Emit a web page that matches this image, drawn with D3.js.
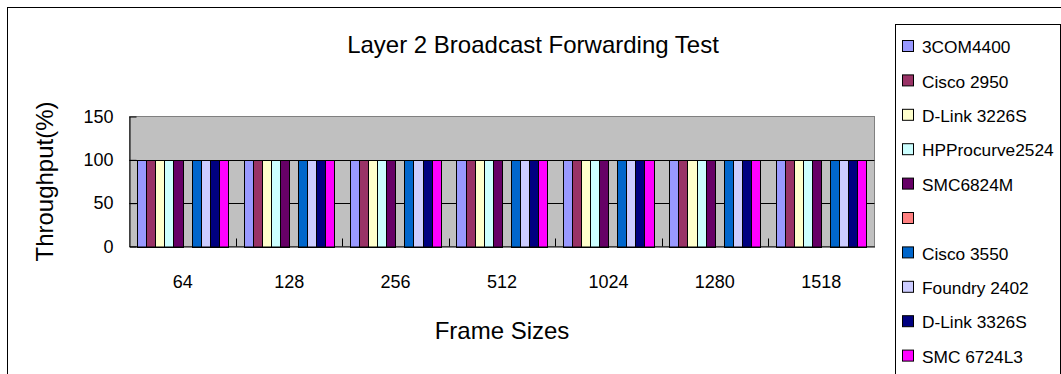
<!DOCTYPE html>
<html>
<head>
<meta charset="utf-8">
<script src="https://cdn.jsdelivr.net/npm/d3@7"></script>
<style>
  html, body { margin: 0; padding: 0; background: #fff; }
  svg { display: block; font-family: "Liberation Sans", Arial, sans-serif; }
</style>
</head>
<body>
<svg id="chart" width="1061" height="374"></svg>
<script>
// ---------- data ----------
const categories = ["64", "128", "256", "512", "1024", "1280", "1518"];
const seriesNames = ["3COM4400", "Cisco 2950", "D-Link 3226S", "HPProcurve2524", "SMC6824M", "",
                     "Cisco 3550", "Foundry 2402", "D-Link 3326S", "SMC 6724L3"];
const values3COM4400      = [100, 100, 100, 100, 100, 100, 100];
const valuesCisco2950     = [100, 100, 100, 100, 100, 100, 100];
const valuesDLink3226S    = [100, 100, 100, 100, 100, 100, 100];
const valuesHPProcurve2524= [100, 100, 100, 100, 100, 100, 100];
const valuesSMC6824M      = [100, 100, 100, 100, 100, 100, 100];
const valuesBlank         = [null, null, null, null, null, null, null];
const valuesCisco3550     = [100, 100, 100, 100, 100, 100, 100];
const valuesFoundry2402   = [100, 100, 100, 100, 100, 100, 100];
const valuesDLink3326S    = [100, 100, 100, 100, 100, 100, 100];
const valuesSMC6724L3     = [100, 100, 100, 100, 100, 100, 100];
const yTicks = [0, 50, 100, 150];
const titleText = "Layer 2 Broadcast Forwarding Test";
const xTitle = "Frame Sizes";
const yTitle = "Throughput(%)";

// ---------- styles ----------
const seriesColors = ["#9999FF", "#993366", "#FFFFCC", "#CCFFFF", "#660066", "#FF8080",
                      "#0066CC", "#CCCCFF", "#000080", "#FF00FF"];

const seriesValues = [values3COM4400, valuesCisco2950, valuesDLink3226S, valuesHPProcurve2524,
  valuesSMC6824M, valuesBlank, valuesCisco3550, valuesFoundry2402, valuesDLink3326S, valuesSMC6724L3];

const svg = d3.select("#chart");

// outer chart border
svg.append("rect").attr("x", 7.5).attr("y", 7.5).attr("width", 1100).attr("height", 400)
  .attr("fill", "#fff").attr("stroke", "#000").attr("stroke-width", 1);

const plot = { left: 129.5, right: 874.5, top: 116.5, bottom: 246.5 };

const x0 = d3.scaleBand().domain(categories).range([plot.left, plot.right]).padding(0);
const bw = x0.bandwidth();
const x1 = d3.scaleBand().domain(d3.range(seriesNames.length)).range([bw * 0.072, bw * 0.924]).padding(0);
const y = d3.scaleLinear().domain([0, 150]).range([plot.bottom, plot.top]);

// plot area
svg.append("rect").attr("x", plot.left).attr("y", plot.top)
  .attr("width", plot.right - plot.left).attr("height", plot.bottom - plot.top)
  .attr("fill", "#C0C0C0").attr("stroke", "#808080").attr("stroke-width", 1);

// gridlines
svg.append("g").selectAll("line").data(yTicks.filter(d => d > 0 && d < 150)).join("line")
  .attr("x1", plot.left).attr("x2", plot.right)
  .attr("y1", d => Math.round(y(d)) + 0.5).attr("y2", d => Math.round(y(d)) + 0.5)
  .attr("stroke", "#000").attr("stroke-width", 1);

// bars
const rows = [];
seriesValues.forEach((vals, si) => vals.forEach((v, ci) => {
  if (v != null) rows.push({ si, cat: categories[ci], v });
}));
svg.append("g").selectAll("rect").data(rows).join("rect")
  .attr("x", d => Math.round(x0(d.cat) + x1(d.si)) + 0.5)
  .attr("y", d => Math.round(y(d.v)) + 0.5)
  .attr("width", d => Math.round(x0(d.cat) + x1(d.si) + x1.bandwidth()) - Math.round(x0(d.cat) + x1(d.si)))
  .attr("height", d => Math.round(y(0)) - Math.round(y(d.v)))
  .attr("fill", d => seriesColors[d.si]).attr("stroke", "#000").attr("stroke-width", 1);

// axes
const yAxis = d3.axisLeft(y).tickValues(yTicks).tickSizeInner(-7).tickSizeOuter(0).tickPadding(16);
const gy = svg.append("g").attr("transform", `translate(${plot.left},0)`).call(yAxis);
gy.select(".domain").attr("stroke", "#000");
gy.selectAll(".tick line").attr("stroke", "#000");
gy.selectAll("text").attr("font-size", 18).attr("fill", "#000").attr("font-family", "Liberation Sans, Arial, sans-serif");

const xAxis = d3.axisBottom(x0).tickSize(0).tickPadding(29);
const gx = svg.append("g").attr("transform", `translate(0,${plot.bottom})`).call(xAxis);
gx.select(".domain").attr("stroke", "#000");
gx.selectAll("text").attr("font-size", 18).attr("fill", "#000").attr("font-family", "Liberation Sans, Arial, sans-serif");

// category boundary ticks (inside)
svg.append("g").selectAll("line").data(categories.slice(1)).join("line")
  .attr("x1", d => Math.round(x0(d)) + 0.5).attr("x2", d => Math.round(x0(d)) + 0.5)
  .attr("y1", plot.bottom).attr("y2", plot.bottom - 8)
  .attr("stroke", "#000").attr("stroke-width", 1);

// titles
svg.append("text").attr("x", 533).attr("y", 53).attr("text-anchor", "middle")
  .attr("font-size", 24).attr("fill", "#000").text(titleText);
svg.append("text").attr("x", (plot.left + plot.right) / 2).attr("y", 339).attr("text-anchor", "middle")
  .attr("font-size", 24).attr("fill", "#000").text(xTitle);
svg.append("text").attr("transform", "translate(53,181.5) rotate(-90)").attr("text-anchor", "middle")
  .attr("font-size", 24).attr("fill", "#000").text(yTitle);

// legend
const lg = svg.append("g");
lg.append("rect").attr("x", 895.5).attr("y", 24.5).attr("width", 165).attr("height", 400)
  .attr("fill", "#fff").attr("stroke", "#000").attr("stroke-width", 1);
const items = lg.selectAll("g.item").data(seriesNames).join("g").attr("class", "item")
  .attr("transform", (d, i) => `translate(0,${47 + i * 34.4})`);
items.append("rect").attr("x", 902.5).attr("y", -6.5).attr("width", 11).attr("height", 11)
  .attr("fill", (d, i) => seriesColors[i]).attr("stroke", "#000").attr("stroke-width", 1);
items.append("text").attr("x", 922).attr("y", 6.2).attr("font-size", 17.3).attr("fill", "#000").text(d => d);
</script>
</body>
</html>
